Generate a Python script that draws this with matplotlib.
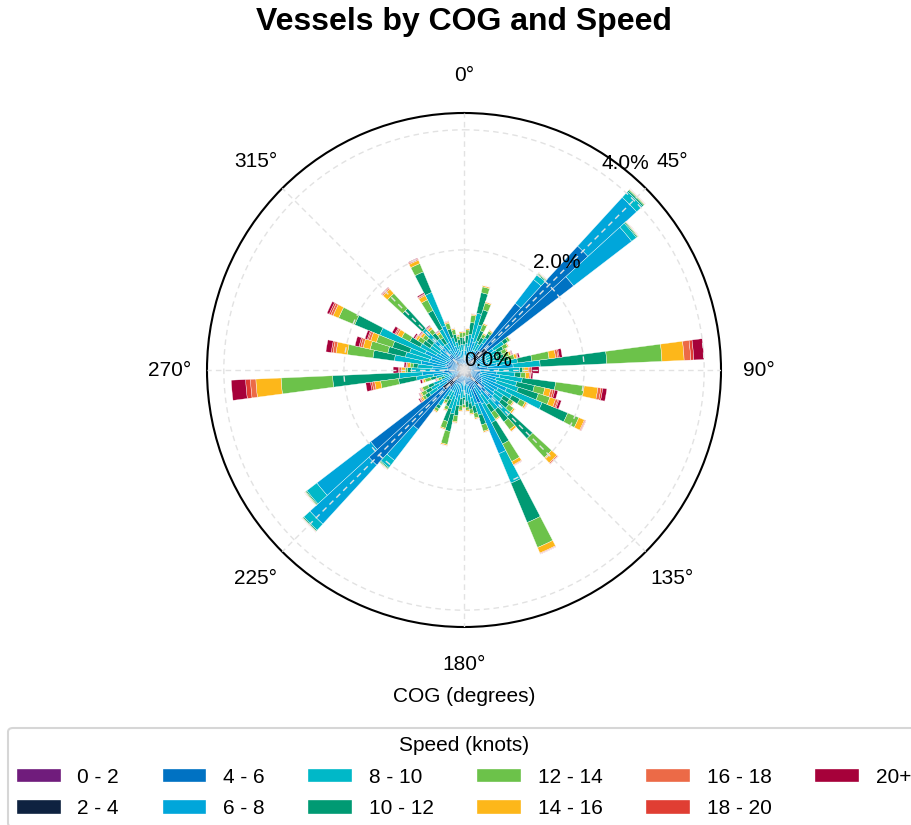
import numpy as np
import matplotlib
matplotlib.use("Agg")
import matplotlib.pyplot as plt

plt.rcParams['font.family'] = ['Liberation Sans', 'DejaVu Sans']

# COG bins (degrees, bin centres, 5° wide)
cog_bins = list(range(0, 360, 5))

speed_labels = ['0 - 2', '2 - 4', '4 - 6', '6 - 8', '8 - 10', '10 - 12',
                '12 - 14', '14 - 16', '16 - 18', '18 - 20', '20+']
speed_colors = ['#701C7C', '#0E2240', '#0072C3', '#00A6DA', '#00B8C8', '#009A73',
                '#6CC24A', '#FDB71A', '#EC6A47', '#E03E33', '#A6013A']

# Share of all vessel reports (%) per COG bin, one list per speed class
spd_0_2 = [.04, .04, .04, .04, .04, .04, .04, .04, .05, .05, .05, .04,
           .04, .04, .04, .04, .04, .05, .04, .04, .04, .04, .04, .04,
           .04, .04, .04, .05, .04, .04, .04, .05, .04, .04, .04, .04,
           .04, .04, .04, .04, .04, .04, .04, .04, .05, .05, .05, .04,
           .04, .04, .03, .04, .04, .05, .04, .04, .04, .04, .04, .04,
           .04, .04, .04, .04, .04, .04, .04, .04, .04, .04, .04, .04]
spd_2_4 = [.06, .06, .06, .06, .06, .06, .08, .15, .35, .45, .45, .10,
           .06, .06, .06, .06, .08, .10, .08, .08, .08, .08, .08, .08,
           .10, .12, .20, .30, .20, .10, .10, .10, .10, .08, .07, .06,
           .06, .06, .06, .06, .06, .08, .10, .15, .30, .40, .40, .10,
           .08, .06, .05, .06, .08, .10, .08, .08, .08, .08, .08, .08,
           .08, .08, .12, .20, .15, .08, .08, .08, .08, .06, .06, .06]
spd_4_6 = [.08, .09, .12, .15, .14, .10, .10, .20, 1.0, 2.3, 1.8, .20,
           .12, .12, .12, .12, .15, .25, .15, .15, .18, .15, .15, .20,
           .20, .20, .20, .25, .20, .15, .20, .45, .20, .15, .13, .12,
           .10, .10, .12, .15, .14, .12, .12, .20, .90, 1.7, 1.51, .20,
           .15, .12, .08, .10, .15, .20, .15, .15, .20, .18, .16, .20,
           .15, .15, .15, .20, .15, .12, .15, .20, .12, .10, .09, .10]
spd_6_8 = [.12, .13, .18, .30, .25, .16, .14, .15, .50, 1.1, 1.22, .25,
           .20, .18, .18, .20, .28, .42, .30, .28, .30, .28, .30, .45,
           .30, .25, .20, .25, .20, .20, .30, .91, .25, .20, .18, .17,
           .14, .15, .20, .25, .22, .16, .14, .20, .65, 1.33, 1.13, .20,
           .20, .18, .10, .15, .25, .35, .28, .25, .40, .30, .30, .38,
           .25, .20, .20, .25, .18, .16, .25, .48, .18, .15, .12, .13]
spd_8_10 = [.12, .13, .20, .42, .30, .17, .13, .10, .10, .13, .10, .20,
            .20, .18, .18, .20, .35, .45, .36, .30, .38, .35, .38, .64,
            .26, .17, .15, .20, .20, .20, .35, .53, .20, .15, .14, .13,
            .12, .13, .18, .25, .22, .14, .10, .12, .15, .14, .21, .15,
            .15, .15, .08, .12, .28, .38, .33, .25, .45, .40, .37, .82,
            .30, .20, .16, .25, .14, .12, .25, .60, .15, .13, .10, .10]
spd_10_12 = [.12, .13, .20, .35, .26, .18, .12, .08, .02, .03, .02, .08,
             .12, .11, .12, .14, .24, 1.11, .04, .10, .56, .30, .35, .46,
             .15, .12, .15, .50, .25, .15, .40, .71, .17, .12, .10, .10,
             .11, .12, .17, .30, .22, .12, .07, .06, .02, .02, .02, .08,
             .10, .10, .06, .10, .30, 1.11, .06, .08, .36, .30, .30, .45,
             .20, .14, .12, .45, .12, .12, .35, .37, .15, .13, .10, .11]
spd_12_14 = [.08, .09, .12, .10, .12, .11, .06, .05, .015, .02, .015, .04,
             .08, .08, .09, .10, .29, .92, .03, .08, .48, .18, .20, .20,
             .10, .07, .10, .43, .16, .13, .33, .45, .11, .08, .07, .05,
             .05, .07, .10, .22, .12, .06, .05, .05, .015, .01, .015, .05,
             .08, .10, .05, .10, .30, .86, .04, .05, .43, .30, .28, .29,
             .15, .10, .08, .34, .08, .08, .20, .15, .10, .08, .06, .08]
spd_14_16 = [.02, .02, .02, .02, .02, .02, .02, .02, .005, .005, .005, .01,
             .02, .02, .03, .04, .11, .37, .07, .06, .23, .10, .10, .10,
             .03, .02, .03, .12, .04, .02, .06, .10, .02, .02, .02, .02,
             .02, .02, .02, .02, .02, .02, .02, .02, .005, .005, .005, .03,
             .02, .02, .02, .03, .10, .42, .06, .04, .19, .12, .10, .10,
             .08, .04, .04, .10, .04, .03, .08, .06, .02, .02, .02, .02]
spd_16_18 = [.005, .005, .005, .006, .006, .006, .006, .006, .005, .005, .005, .005,
             .005, .005, .01, .015, .04, .11, .03, .02, .05, .04, .04, .015,
             .01, .005, .005, .02, .005, .005, .01, .01, .005, .005, .005, .005,
             .005, .005, .005, .005, .005, .005, .005, .005, .005, .005, .005, .02,
             .01, .01, .01, .01, .04, .09, .03, .02, .05, .04, .04, .04,
             .03, .015, .015, .02, .015, .01, .02, .02, .01, .005, .005, .005]
spd_18_20 = [.003, .003, .003, .004, .004, .004, .004, .004, .003, .003, .003, .003,
             .003, .003, .01, .01, .02, .05, .03, .01, .03, .03, .02, .01,
             .005, .003, .003, .007, .003, .003, .006, .006, .003, .003, .003, .003,
             .003, .003, .003, .003, .003, .003, .003, .003, .003, .003, .003, .01,
             .01, .01, .01, .01, .03, .08, .02, .01, .03, .03, .02, .03,
             .02, .01, .01, .01, .01, .01, .01, .01, .005, .003, .003, .003]
spd_20_plus = [.002, .002, .002, 0, 0, 0, 0, 0, .002, .002, .002, .002,
               .002, .002, .01, .025, .05, .17, .12, .03, .07, .05, .04, .005,
               .005, .002, .002, .003, .002, .002, .004, .004, .002, .002, .002, .002,
               .002, .002, .002, .002, .002, .002, .002, .002, .002, .002, .002, .02,
               .01, .01, .01, .03, .08, .24, .09, .03, .09, .07, .04, .04,
               .05, .025, .015, .01, .015, .01, .02, .01, .005, .002, .002, .002]

speed_series = [spd_0_2, spd_2_4, spd_4_6, spd_6_8, spd_8_10, spd_10_12,
                spd_12_14, spd_14_16, spd_16_18, spd_18_20, spd_20_plus]

r_ticks = [0, 2, 4]
theta_ticks = [0, 45, 90, 135, 180, 225, 270, 315]

fig = plt.figure(figsize=(9.11, 8.25), dpi=100)
ax = fig.add_axes([207 / 911, 198 / 825, 514 / 911, 514 / 825], projection='polar')
ax.set_theta_zero_location('N')
ax.set_theta_direction(-1)

theta = np.deg2rad(cog_bins)
width = np.deg2rad(5)
bottom = np.zeros(len(cog_bins))
for vals, lab, col in zip(speed_series, speed_labels, speed_colors):
    vals = np.asarray(vals, dtype=float)
    ax.bar(theta, vals, width=width, bottom=bottom, color=col, label=lab,
           edgecolor='white', linewidth=0.25, zorder=1)
    bottom += vals

ax.set_ylim(0, 4.28)
ax.set_rticks(r_ticks)
ax.set_yticklabels([])
for r in r_ticks:
    ax.text(np.deg2rad(35), r, f"{r:.1f}%", ha='left', va='bottom',
            fontsize=15, color='black', zorder=5)

ax.set_thetagrids(theta_ticks, labels=[f"{t}°" for t in theta_ticks], fontsize=15)
ax.tick_params(axis='x', pad=20, length=0)
ax.set_axisbelow(False)
ax.grid(True, color='#e2e2e2', linestyle=(0, (4, 3)), linewidth=1.0)
ax.spines['polar'].set_color('black')
ax.spines['polar'].set_linewidth(1.5)

fig.text(464 / 911, 1 - 22 / 825, 'Vessels by COG and Speed', ha='center', va='center',
         fontsize=23, fontweight='bold')
fig.text(464 / 911, 1 - 697 / 825, 'COG (degrees)', ha='center', va='center', fontsize=15)

handles, labels = ax.get_legend_handles_labels()
leg = fig.legend(handles, labels, title='Speed (knots)', ncol=6, loc='upper center',
                 bbox_to_anchor=(464 / 911, 1 - 728 / 825), bbox_transform=fig.transFigure,
                 borderaxespad=0, fontsize=15, title_fontsize=15, frameon=True,
                 handlelength=2.1, handleheight=0.65, handletextpad=0.8,
                 columnspacing=2.1, labelspacing=0.6, fancybox=True, borderpad=0.4)
leg.get_frame().set_edgecolor('#cccccc')
leg.get_frame().set_linewidth(1.5)

fig.savefig('out.png', dpi=100)
